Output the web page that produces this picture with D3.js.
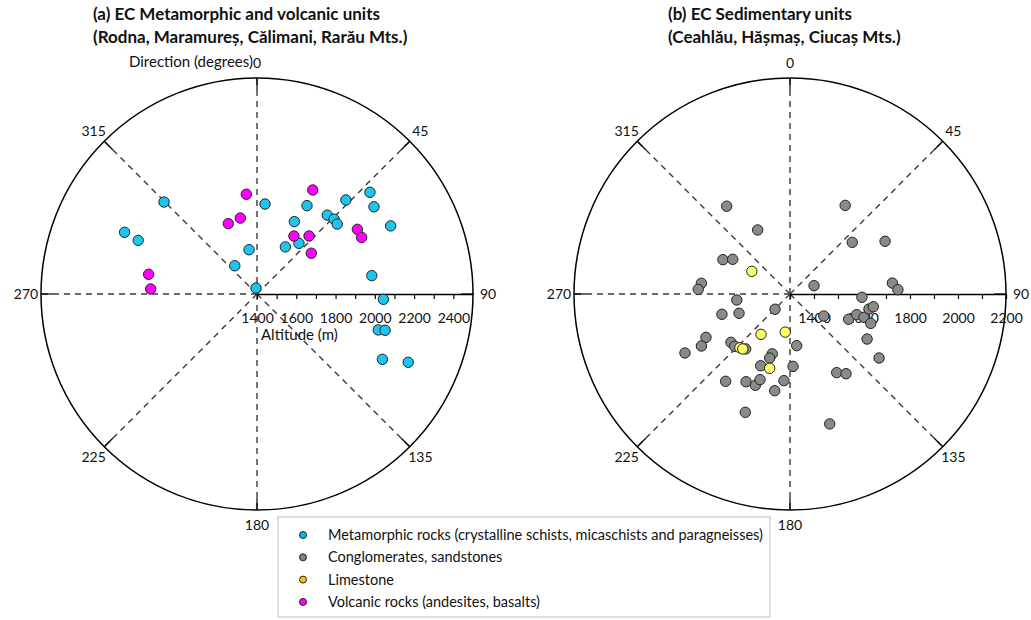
<!DOCTYPE html>
<html>
<head>
<meta charset="utf-8">
<script src="https://cdn.jsdelivr.net/npm/d3@7"></script>
<style>
body { margin: 0; background: #fff; }
text { font-family: Lato, "Open Sans", sans-serif; fill: #111; }
</style>
</head>
<body>
<svg id="chart" width="1031" height="620"></svg>
<script>
// [direction (degrees), altitude (m)]
const metamorphic = [
    [314.7, 2066], [295, 2144], [294.3, 2064], [5.1, 1860], [349.8, 1629],
    [321.8, 1583], [350.5, 1431], [27.3, 1815], [29.5, 1917], [31.1, 1680],
    [39.6, 1735], [43.4, 2059], [41.7, 1938], [45.8, 1947], [48.9, 1942],
    [48.0, 2174], [53.3, 2143], [63.0, 2164], [80.9, 1992], [92.4, 2044],
    [106.5, 2044], [105.8, 2078], [117.5, 2120], [114.3, 2245]
];
const volcanic = [
    [353.9, 1911], [347.6, 1796], [337.8, 1787], [28.2, 2001], [32.5, 1750],
    [41.9, 1797], [53.1, 1746], [57.2, 2008], [61.6, 2006], [280.3, 1961],
    [272.7, 1942]
];
const conglomerates = [
    [324.2, 1751], [333.2, 1599], [297.1, 1614], [301.2, 1579], [276.9, 1672],
    [272.9, 1683], [263.6, 1523], [253.4, 1596], [249.3, 1527], [224.4, 1389],
    [242.7, 1694], [239.6, 1728], [240.7, 1802], [230.7, 1618], [226.6, 1617],
    [218.9, 1594], [196.5, 1560], [197.6, 1580], [172.6, 1517], [202.2, 1623],
    [177.6, 1602], [216.4, 1752], [206.6, 1709], [200.8, 1707], [199.3, 1678],
    [184.0, 1662], [189.0, 1708], [200.7, 1827], [163.0, 1866], [31.9, 1735],
    [50.3, 1637], [61.0, 1753], [70.9, 1406], [83.9, 1729], [87.7, 1750],
    [92.6, 1600], [123.1, 1468], [113.3, 1566], [107.2, 1591], [107.5, 1623],
    [100.8, 1635], [98.7, 1651], [110.0, 1658], [120.3, 1672], [125.7, 1757],
    [149.3, 1681], [144.9, 1706]
];
const limestone = [
    [300.7, 1485], [215.7, 1507], [187.1, 1460], [223.0, 1606], [220.7, 1602],
    [195.3, 1621]
];

const angleTicks = [0, 45, 90, 135, 180, 225, 270, 315];
const altTicksA = [1400, 1500, 1600, 1700, 1800, 1900, 2000, 2100, 2200, 2300, 2400];
const altTicksB = [1300, 1400, 1500, 1600, 1700, 1800, 1900, 2000, 2100, 2200];

const legendLabels = [
    "Metamorphic rocks (crystalline schists, micaschists and paragneisses)",
    "Conglomerates, sandstones",
    "Limestone",
    "Volcanic rocks (andesites, basalts)"
];
const legendColors = ["#00b8ee", "#7f7f7f", "#ffc000", "#ff00ff"];

const svg = d3.select("#chart");
svg.append("rect").attr("width", 1031).attr("height", 620).attr("fill", "#fff");

const R = 216;
const angle = d3.scaleLinear().domain([0, 360]).range([0, 2 * Math.PI]);

function polar(r, a) {
    return [r * Math.sin(a), -r * Math.cos(a)];
}

function drawPolar(cx, cy, rScale, ticks, series) {
    var g = svg.append("g").attr("transform", "translate(" + cx + "," + cy + ")");

    // dashed spokes (except east, which carries the altitude axis)
    angleTicks.filter(d => d !== 90).forEach(function (d) {
        var p = polar(R, angle(d));
        g.append("line")
            .attr("x1", 0).attr("y1", 0)
            .attr("x2", p[0]).attr("y2", p[1])
            .attr("stroke", "#3a3a3a")
            .attr("stroke-width", 1.4)
            .attr("stroke-dasharray", "6,5");
    });

    g.append("circle")
        .attr("r", R)
        .attr("fill", "none")
        .attr("stroke", "#000")
        .attr("stroke-width", 1.5);

    // small inward ticks on the rim
    angleTicks.forEach(function (d) {
        var p1 = polar(R, angle(d)), p2 = polar(R - 12, angle(d));
        g.append("line")
            .attr("x1", p1[0]).attr("y1", p1[1])
            .attr("x2", p2[0]).attr("y2", p2[1])
            .attr("stroke", "#000")
            .attr("stroke-width", 1.2);
    });

    g.selectAll(".alabel")
        .data(angleTicks)
        .enter()
        .append("text")
        .attr("x", d => polar(R + 15, angle(d))[0])
        .attr("y", d => polar(R + 15, angle(d))[1])
        .attr("text-anchor", "middle")
        .attr("dy", "0.35em")
        .style("font-size", "14px")
        .text(d => d);

    var axis = d3.axisBottom(rScale)
        .tickValues(ticks)
        .tickSize(5)
        .tickSizeOuter(0)
        .tickFormat(d => (d % 200 === 0 ? d : ""));
    var ax = g.append("g").call(axis);
    ax.select(".domain").attr("stroke", "#000").attr("stroke-width", 1.5);
    ax.selectAll(".tick line").attr("stroke", "#000").attr("stroke-width", 1.2);
    ax.selectAll(".tick text")
        .attr("y", 19)
        .style("font-family", "Lato, 'Open Sans', sans-serif")
        .style("font-size", "14px")
        .attr("fill", "#111");

    series.forEach(function (s) {
        g.selectAll(null)
            .data(s.data)
            .enter()
            .append("circle")
            .attr("cx", d => polar(rScale(d[1]), angle(d[0]))[0])
            .attr("cy", d => polar(rScale(d[1]), angle(d[0]))[1])
            .attr("r", 5.2)
            .attr("fill", s.color)
            .attr("stroke", "#222")
            .attr("stroke-width", 1);
    });
    return g;
}

var rA = d3.scaleLinear().domain([1400, 2500]).range([0, R]);
var rB = d3.scaleLinear().domain([1300, 2200]).range([0, R]);

var gA = drawPolar(257, 294, rA, altTicksA, [
    { data: metamorphic, color: "#1cc5f0" },
    { data: volcanic, color: "#ff00ff" }
]);
var gB = drawPolar(790, 294, rB, altTicksB, [
    { data: conglomerates, color: "#8a8a8a" },
    { data: limestone, color: "#ffff66" }
]);

gA.append("text")
    .attr("x", 4).attr("y", 46)
    .style("font-size", "15px")
    .text("Altitude (m)");

// titles
function title(x, lines) {
    lines.forEach(function (t, i) {
        svg.append("text")
            .attr("x", x).attr("y", 20 + i * 23)
            .style("font-size", "17px")
            .style("font-weight", "bold")
            .attr("fill", "#000")
            .text(t);
    });
}
title(93, ["(a) EC Metamorphic and volcanic units", "(Rodna, Maramureș, Călimani, Rarău Mts.)"]);
title(668, ["(b) EC Sedimentary units", "(Ceahlău, Hășmaș, Ciucaș Mts.)"]);

svg.append("text")
    .attr("x", 129).attr("y", 67)
    .style("font-size", "15px")
    .attr("fill", "#333")
    .text("Direction (degrees)");

// legend
var lg = svg.append("g").attr("transform", "translate(278,517)");
lg.append("rect")
    .attr("width", 492).attr("height", 100)
    .attr("fill", "#fff")
    .attr("stroke", "#bfbfbf");
var item = lg.selectAll(".item")
    .data(legendLabels)
    .enter()
    .append("g")
    .attr("transform", (d, i) => "translate(0," + (18 + i * 22.3) + ")");
item.append("circle")
    .attr("cx", 25).attr("r", 3.5)
    .attr("fill", (d, i) => legendColors[i])
    .attr("stroke", "#222");
item.append("text")
    .attr("x", 50).attr("dy", "0.35em")
    .style("font-size", "14.5px")
    .text(d => d);
</script>
</body>
</html>
